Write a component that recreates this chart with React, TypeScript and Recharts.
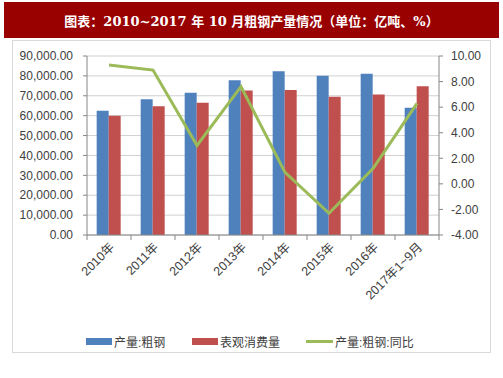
import { ComposedChart, Bar, Line, XAxis, YAxis, CartesianGrid } from "recharts";

const categories = ["2010年", "2011年", "2012年", "2013年", "2014年", "2015年", "2016年", "2017年1~9月"];
const output = [62500, 68200, 71500, 77800, 82300, 80100, 81100, 64000];
const consumption = [60000, 64700, 66500, 72700, 72900, 69500, 70700, 74800];
const yoy = [9.3, 8.9, 3.0, 7.6, 0.9, -2.3, 1.2, 6.3];
const leftTicks = [0, 10000, 20000, 30000, 40000, 50000, 60000, 70000, 80000, 90000];
const rightTicks = [-4, -2, 0, 2, 4, 6, 8, 10];

const data = categories.map((name, i) => ({
  name,
  output: output[i],
  consumption: consumption[i],
  yoy: yoy[i],
}));

const BLUE = "#4F81BD";
const RED = "#C0504D";
const GREEN = "#9BBB59";
const TEXT = "#404040";
const NUM_FONT = "'Liberation Sans', Arial, sans-serif";
const CJK_FONT = "'Liberation Sans', 'Noto Sans CJK SC', sans-serif";

const W = 478;
const H = 312;
const LEFT_W = 75;
const RIGHT_W = 51;
const HALF_BAND = (W - LEFT_W - RIGHT_W) / categories.length / 2;

const fmtLeft = (v: number) =>
  v.toLocaleString("en-US", { minimumFractionDigits: 2, maximumFractionDigits: 2 });
const fmtRight = (v: number) => v.toFixed(2);

function XTick(props: any) {
  const { x, y, payload, index } = props;
  const last = index === categories.length - 1;
  return (
    <g>
      <line x1={x - HALF_BAND} y1={y} x2={x - HALF_BAND} y2={y + 5} stroke="#868686" />
      {last && <line x1={x + HALF_BAND} y1={y} x2={x + HALF_BAND} y2={y + 5} stroke="#868686" />}
      <text
        x={x + 6}
        y={y + 13}
        transform={`rotate(-45 ${x + 6} ${y + 13})`}
        textAnchor="end"
        fontSize={12.5}
        fill={TEXT}
        fontFamily={CJK_FONT}
      >
        {payload.value}
      </text>
    </g>
  );
}

function LegendItem({ left, kind, color, label }: { left: number; kind: "bar" | "line"; color: string; label: string }) {
  return (
    <div style={{ position: "absolute", left, top: 331, display: "flex", alignItems: "center", height: 20 }}>
      {kind === "bar" ? (
        <div style={{ width: 26, height: 7, background: color }} />
      ) : (
        <div style={{ width: 27, height: 3, background: color }} />
      )}
      <span style={{ marginLeft: 2, fontSize: 12, color: TEXT, fontFamily: CJK_FONT, whiteSpace: "nowrap" }}>
        {label}
      </span>
    </div>
  );
}

export default function App() {
  return (
    <div style={{ position: "absolute", left: 0, top: 0, width: 503, height: 378, background: "#fff", overflow: "hidden" }}>
      <div
        style={{
          position: "absolute",
          left: 4,
          top: 2,
          width: 495,
          height: 36,
          background: "#990000",
          color: "#fff",
          display: "flex",
          alignItems: "center",
          justifyContent: "center",
          fontSize: 13,
          fontWeight: "bold",
          fontFamily: "'DejaVu Serif', 'Noto Sans CJK SC', serif",
          whiteSpace: "pre",
        }}
      >
        图表：2010~2017 年 10 月粗钢产量情况（单位：亿吨、%）
      </div>
      <div style={{ position: "absolute", left: 12, top: 40, width: W - 1, height: H - 1, border: "1px solid #d9d9d9" }} />
      <div style={{ position: "absolute", left: 12, top: 40 }}>
        <ComposedChart
          width={W}
          height={H}
          data={data}
          margin={{ top: 16, right: 0, left: 0, bottom: 0 }}
          barGap={0}
          barCategoryGap="22%"
        >
          <CartesianGrid yAxisId="left" vertical={false} stroke="#d0d0d0" />
          <XAxis
            dataKey="name"
            height={117}
            interval={0}
            tickSize={0}
            tickMargin={0}
            tick={<XTick />}
            axisLine={{ stroke: "#868686" }}
          />
          <YAxis
            yAxisId="left"
            width={LEFT_W}
            domain={[0, 90000]}
            ticks={leftTicks}
            interval={0}
            tickFormatter={fmtLeft}
            tickSize={4}
            tickMargin={10}
            axisLine={{ stroke: "#868686" }}
            tickLine={{ stroke: "#868686" }}
            tick={{ fontSize: 12, fill: TEXT, fontFamily: NUM_FONT }}
          />
          <YAxis
            yAxisId="right"
            orientation="right"
            width={RIGHT_W}
            domain={[-4, 10]}
            ticks={rightTicks}
            interval={0}
            tickFormatter={fmtRight}
            tickSize={4}
            tickMargin={8}
            axisLine={{ stroke: "#868686" }}
            tickLine={{ stroke: "#868686" }}
            tick={{ fontSize: 12, fill: TEXT, fontFamily: NUM_FONT }}
          />
          <Bar yAxisId="left" dataKey="output" fill={BLUE} isAnimationActive={false} />
          <Bar yAxisId="left" dataKey="consumption" fill={RED} isAnimationActive={false} />
          <Line
            yAxisId="right"
            dataKey="yoy"
            type="linear"
            stroke={GREEN}
            strokeWidth={3}
            dot={false}
            isAnimationActive={false}
          />
        </ComposedChart>
      </div>
      <LegendItem left={86} kind="bar" color={BLUE} label="产量:粗钢" />
      <LegendItem left={192} kind="bar" color={RED} label="表观消费量" />
      <LegendItem left={306} kind="line" color={GREEN} label="产量:粗钢:同比" />
    </div>
  );
}
